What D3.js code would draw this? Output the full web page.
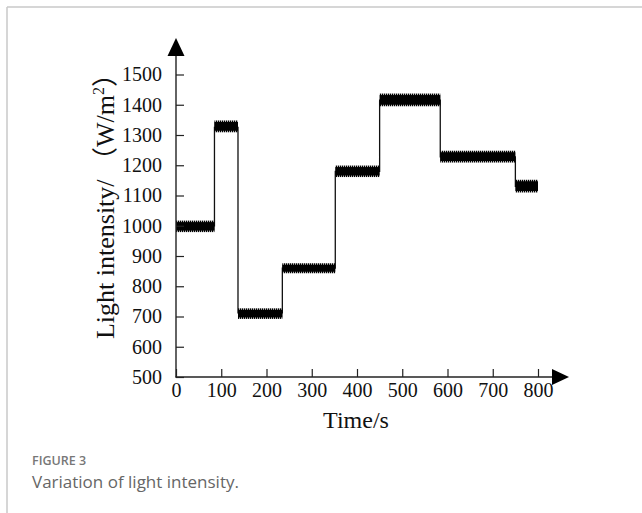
<!DOCTYPE html>
<html>
<head>
<meta charset="utf-8">
<script src="https://cdn.jsdelivr.net/npm/d3@7"></script>
<style>
html,body{margin:0;padding:0;background:#fff;}
svg{display:block;}
</style>
</head>
<body>
<script>
// ---- data ----
const segStart = [0, 85, 137, 235, 352, 450, 584, 750];
const segEnd   = [85, 137, 235, 352, 450, 584, 750, 800];
const segLevel = [1000, 1325, 712, 860, 1180, 1415, 1228, 1130];
const segLow   = [979, 1309, 692, 843, 1161, 1395, 1209, 1110];
const segHigh  = [1017, 1348, 727, 876, 1199, 1437, 1248, 1152];
const xTicks = [0, 100, 200, 300, 400, 500, 600, 700, 800];
const yTicks = [500, 600, 700, 800, 900, 1000, 1100, 1200, 1300, 1400, 1500];

const W = 642, H = 513;
const svg = d3.select("body").append("svg").attr("width", W).attr("height", H);

// frame
svg.append("line").attr("x1", 7).attr("x2", W).attr("y1", 7).attr("y2", 7)
  .attr("stroke", "#c8c8c8").attr("stroke-width", 1.5);
svg.append("line").attr("x1", 7).attr("x2", 7).attr("y1", 7).attr("y2", H)
  .attr("stroke", "#c8c8c8").attr("stroke-width", 1.5);

const x = d3.scaleLinear().domain([0, 800]).range([176, 538]);
const y = d3.scaleLinear().domain([500, 1500]).range([377, 74.5]);

const serif = "'Liberation Serif','Times New Roman','Noto Sans CJK SC',serif";

// pattern for ripple band
const defs = svg.append("defs");
const pat = defs.append("pattern").attr("id", "rip").attr("patternUnits", "userSpaceOnUse")
  .attr("width", 2).attr("height", 4);
pat.append("rect").attr("x", 0).attr("y", 0).attr("width", 1.3).attr("height", 4).attr("fill", "#000");

// step connector line
const stepPts = segStart.map((s, i) => [s, segLevel[i]]);
stepPts.push([segEnd[segEnd.length - 1], segLevel[segLevel.length - 1]]);
svg.append("path")
  .attr("d", d3.line().x(d => x(d[0])).y(d => y(d[1])).curve(d3.curveStepAfter)(stepPts))
  .attr("fill", "none").attr("stroke", "#111").attr("stroke-width", 1.3);

// ripple bands
const segs = segStart.map((s, i) => ({s, e: segEnd[i], lv: segLevel[i], lo: segLow[i], hi: segHigh[i]}));
svg.append("g").selectAll("rect").data(segs).join("rect")
  .attr("x", d => x(d.s)).attr("width", d => x(d.e) - x(d.s))
  .attr("y", d => y(d.hi)).attr("height", d => y(d.lo) - y(d.hi))
  .attr("fill", "url(#rip)");
svg.append("g").selectAll("rect").data(segs).join("rect")
  .attr("x", d => x(d.s)).attr("width", d => x(d.e) - x(d.s))
  .attr("y", d => y(d.hi) + 1.5).attr("height", d => y(d.lo) - y(d.hi) - 3)
  .attr("fill", "#000");

// axes
const yAxis = d3.axisLeft(y).tickValues(yTicks).tickFormat(d3.format("d"))
  .tickSizeInner(-8).tickSizeOuter(0).tickPadding(14);
const gy = svg.append("g").attr("transform", "translate(176,0)").call(yAxis);
const xAxis = d3.axisBottom(x).tickValues(xTicks).tickFormat(d3.format("d"))
  .tickSizeInner(-8).tickSizeOuter(0).tickPadding(6);
const gx = svg.append("g").attr("transform", "translate(0,377)").call(xAxis);
[gx, gy].forEach(g => {
  g.select(".domain").remove();
  g.selectAll(".tick line").attr("stroke", "#222").attr("stroke-width", 1.2);
  g.selectAll(".tick text").attr("font-family", serif).attr("font-size", 20).attr("fill", "#111");
});

// axis lines with arrows
svg.append("line").attr("x1", 176).attr("x2", 176).attr("y1", 377.5).attr("y2", 52)
  .attr("stroke", "#222").attr("stroke-width", 1.4);
svg.append("line").attr("x1", 175.5).attr("x2", 556).attr("y1", 377).attr("y2", 377)
  .attr("stroke", "#222").attr("stroke-width", 1.4);
svg.append("path").attr("d", "M176,38 L167.5,56 L184.5,56 Z").attr("fill", "#000");
svg.append("path").attr("d", "M569,377 L552,369 L552,385 Z").attr("fill", "#000");

// axis titles
svg.append("text").attr("x", 356).attr("y", 428).attr("text-anchor", "middle")
  .attr("font-family", serif).attr("font-size", 24).attr("fill", "#111").text("Time/s");

const yl = svg.append("text").attr("transform", "translate(114,200) rotate(-90)")
  .attr("text-anchor", "middle").attr("font-family", serif).attr("font-size", 26).attr("fill", "#111");
yl.append("tspan").text("Light intensity/\u00a0（W/m");
yl.append("tspan").attr("font-size", 16).attr("dy", -10).text("2");
yl.append("tspan").attr("dy", 10).text("）");

// caption
svg.append("text").attr("x", 32).attr("y", 465).attr("font-family", "'Open Sans',sans-serif")
  .attr("font-size", 12.5).attr("font-weight", 600).attr("fill", "#777").text("FIGURE 3");
svg.append("text").attr("x", 32).attr("y", 488).attr("font-family", "'Open Sans',sans-serif")
  .attr("font-size", 17).attr("fill", "#666").text("Variation of light intensity.");
</script>
</body>
</html>
